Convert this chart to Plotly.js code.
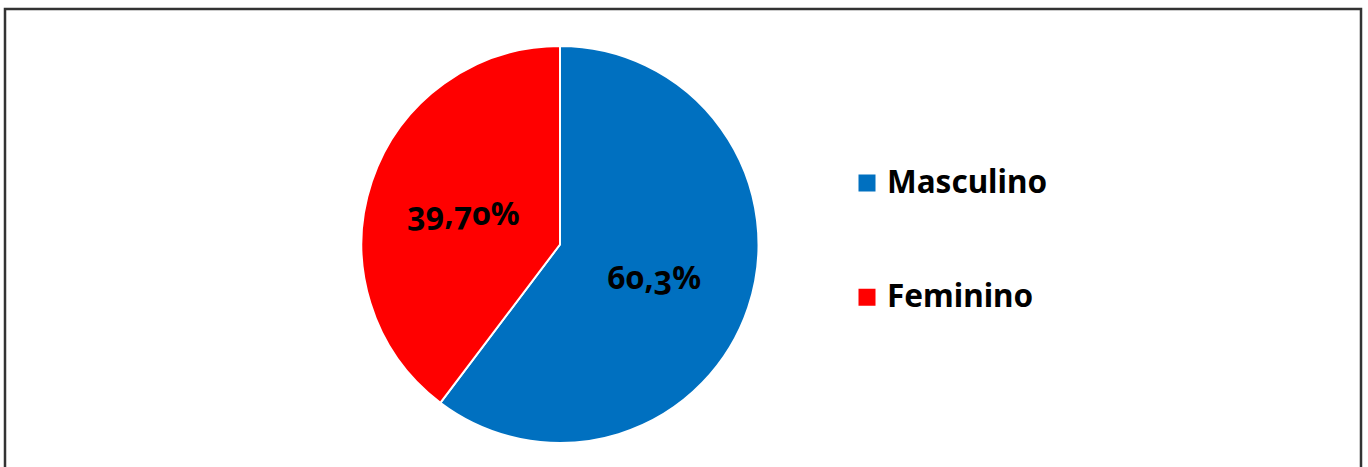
<!DOCTYPE html>
<html>
<head>
<meta charset="utf-8">
<script src="https://cdn.plot.ly/plotly-3.0.1.min.js"></script>
<style>
html,body{margin:0;padding:0;background:#fff;}
#chart{width:1368px;height:467px;}
.slicetext{font-variant-numeric:oldstyle-nums;font-feature-settings:"onum" 1;}
</style>
</head>
<body>
<div id="chart"></div>
<script>
const categories = ["Masculino", "Feminino"];
const values = [60.3, 39.7];
const valueLabels = ["60,3%", "39,70%"];
const colors = ["#0070C0", "#FF0000"];

const W = 1368, H = 467;
const cx = 560, cy = 244.5, r = 198.5;

const pad = "&nbsp;<br>&nbsp;<br>";
const trace = {
  type: "pie",
  labels: categories.map(c => pad + "<span style='font-size:31.5px'>" + c + "</span><br>&nbsp;<br>&nbsp;"),
  values: values,
  text: valueLabels,
  textinfo: "text",
  textposition: "inside",
  insidetextorientation: "horizontal",
  sort: false,
  direction: "clockwise",
  rotation: 0,
  marker: {colors: colors, line: {color: "#ffffff", width: 2}},
  textfont: {family: "Noto Sans, sans-serif", size: 32, color: "#000000", weight: 700},
  hoverinfo: "percent",
  domain: {x: [(cx - r) / W, (cx + r) / W], y: [1 - (cy + r) / H, 1 - (cy - r) / H]}
};

const layout = {
  width: W, height: H,
  margin: {l: 0, r: 0, t: 0, b: 0},
  paper_bgcolor: "#ffffff",
  showlegend: true,
  legend: {
    x: 847 / W, xanchor: "left",
    y: 1 - 244 / H, yanchor: "middle",
    font: {family: "Noto Sans, sans-serif", size: 17.1, color: "#000000", weight: 700},
    valign: "middle",
    bgcolor: "rgba(0,0,0,0)"
  },
  shapes: [{
    type: "rect", xref: "paper", yref: "paper",
    x0: 5 / W, x1: 1361 / W, y0: -0.05, y1: 1 - 9 / H,
    line: {color: "#333333", width: 2.5}, fillcolor: "rgba(0,0,0,0)"
  }]
};

Plotly.newPlot("chart", [trace], layout, {displayModeBar: false, staticPlot: true}).then(gd => {
  // enlarge the legend swatches to match the reference's square markers
  document.querySelectorAll(".legendpoints path").forEach(p => {
    p.setAttribute("d", "M8.5,5H-8.5V-12H8.5Z");
    p.style.strokeWidth = "0px";
  });
});
</script>
</body>
</html>
